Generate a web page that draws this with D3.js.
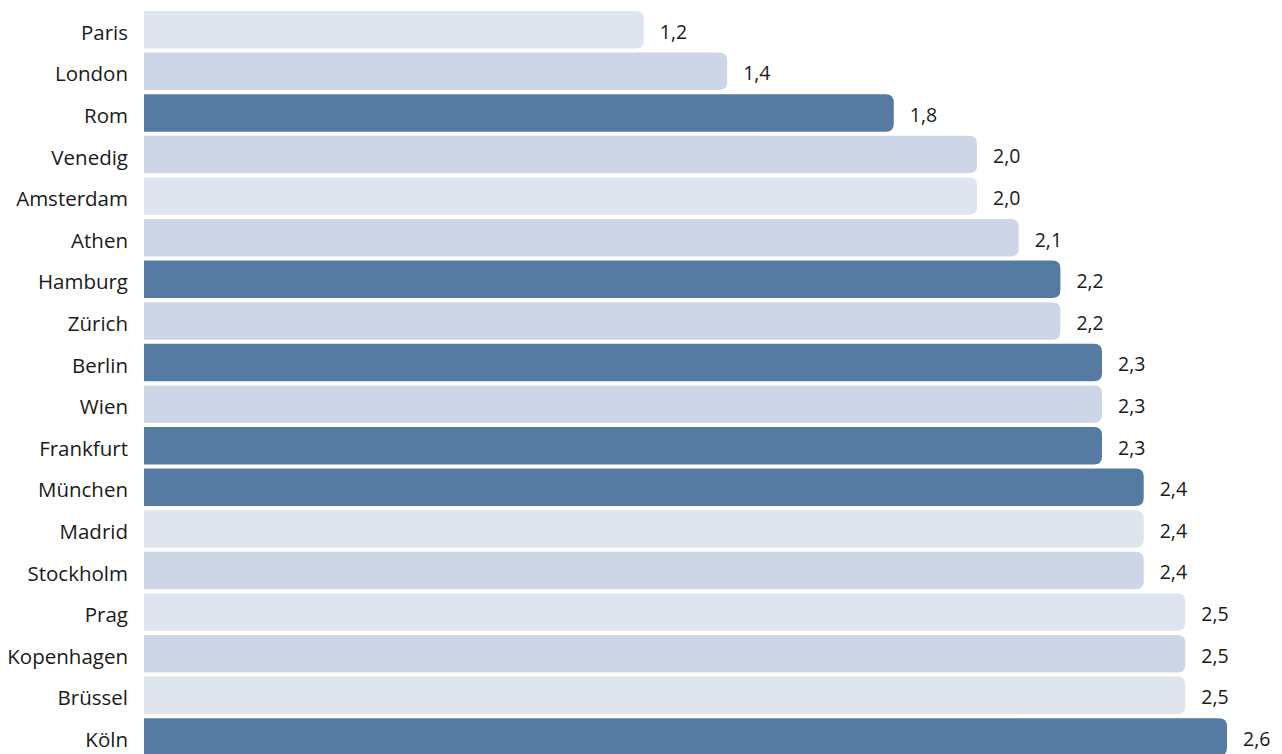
<!DOCTYPE html>
<html><head><meta charset="utf-8">
<script src="https://cdn.jsdelivr.net/npm/d3@7"></script>
<style>body{margin:0;background:#fff;overflow:hidden}svg{display:block}text{font-family:"Open Sans",sans-serif;fill:#1a1a1a}</style>
</head><body><svg id="c" width="1282" height="754"></svg>
<script>
const cities = ["Paris","London","Rom","Venedig","Amsterdam","Athen","Hamburg","Zürich","Berlin","Wien","Frankfurt","München","Madrid","Stockholm","Prag","Kopenhagen","Brüssel","Köln"];
const values = [1.2,1.4,1.8,2.0,2.0,2.1,2.2,2.2,2.3,2.3,2.3,2.4,2.4,2.4,2.5,2.5,2.5,2.6];
const groups = ["a","b","c","b","a","b","c","b","c","b","c","c","a","b","a","b","a","c"];
const groupColors = {a:"#DEE5EE", b:"#CDD6E6", c:"#557BA2"};

const svg = d3.select("#c");
const x = d3.scaleLinear().domain([0,2.6]).range([144,1227]);
const pad = 0.1, step = 41.6;
const y = d3.scaleBand().domain(cities).range([11, 11+step*(18-pad)]).paddingInner(pad).paddingOuter(0);
const fmt = v => d3.format(".1f")(v).replace(".",",");
const r = 8;
function barPath(x0,x1,y0,h){
  return `M${x0},${y0}H${x1-r}Q${x1},${y0} ${x1},${y0+r}V${y0+h-r}Q${x1},${y0+h} ${x1-r},${y0+h}H${x0}Z`;
}
const data = cities.map((c,i)=>({c,v:values[i],g:groups[i]}));
svg.selectAll("path.bar").data(data).join("path").attr("class","bar")
  .attr("d",d=>barPath(x(0),x(d.v),y(d.c),y.bandwidth()))
  .attr("fill",d=>groupColors[d.g]);
svg.selectAll("text.lab").data(data).join("text").attr("class","lab")
  .attr("x",128).attr("y",d=>y(d.c)+y.bandwidth()/2+3).attr("dy","0.35em")
  .attr("text-anchor","end").attr("font-size",20.5).text(d=>d.c);
svg.selectAll("text.val").data(data).join("text").attr("class","val")
  .attr("x",d=>x(d.v)+16).attr("y",d=>y(d.c)+y.bandwidth()/2+2).attr("dy","0.35em")
  .attr("font-size",19.5).text(d=>fmt(d.v));
</script></body></html>
